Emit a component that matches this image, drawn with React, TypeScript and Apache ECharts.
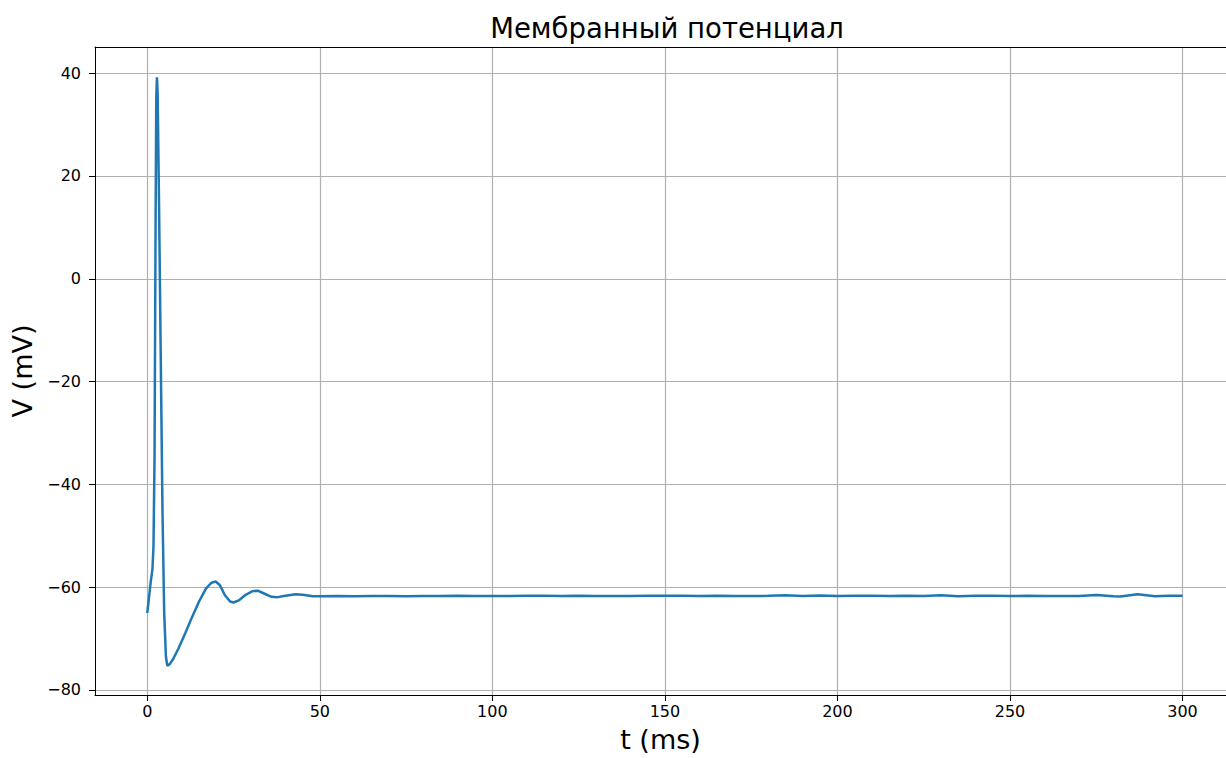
import React, { useEffect, useRef } from "react";
import * as echarts from "echarts";

// Simulated membrane potential trace (time in ms, potential in mV)
const timeMs = [
  0, 0.5, 1.0, 1.5, 1.8, 2.1, 2.4, 2.6, 2.8, 3.0, 3.4, 3.9, 4.4, 4.9, 5.4, 5.8,
  6.5, 7.5, 9, 11, 13, 15, 17, 18.5, 19.8, 21, 22.5, 24, 25, 26.5, 28.5, 30.5,
  32, 34, 36, 37.5, 40, 43, 45, 48,
  50, 55, 60, 65, 70, 75, 80, 85, 90, 95, 100, 105, 110, 115, 120, 125, 130,
  135, 140, 145, 150, 155, 160, 165, 170, 175, 180, 185, 190, 195, 200, 205,
  210, 215, 220, 225, 230, 235, 240, 245, 250, 255, 260, 265, 270, 275, 280,
  282, 287, 292, 296, 300,
];

const potentialMv = [
  -65, -62, -59, -56.5, -52, -35, 10, 35, 39.2, 36, 15, -15, -45, -65, -73.5,
  -75.3, -75, -74, -72, -69, -65.8, -62.8, -60.3, -59.2, -58.9, -59.6, -61.6,
  -62.8, -63.0, -62.6, -61.5, -60.8, -60.7, -61.3, -61.9, -62.0, -61.7, -61.4,
  -61.5, -61.8,
  -61.8, -61.75, -61.8, -61.75, -61.75, -61.8, -61.75, -61.75, -61.7, -61.75,
  -61.75, -61.75, -61.7, -61.7, -61.75, -61.7, -61.75, -61.75, -61.75, -61.7,
  -61.7, -61.7, -61.75, -61.7, -61.75, -61.75, -61.7, -61.6, -61.75, -61.65,
  -61.75, -61.7, -61.7, -61.75, -61.7, -61.75, -61.6, -61.8, -61.7, -61.7,
  -61.75, -61.7, -61.75, -61.75, -61.75, -61.55, -61.8, -61.85, -61.4, -61.8,
  -61.7, -61.7,
];

const xTicks = [0, 50, 100, 150, 200, 250, 300];
const yTicks = [-80, -60, -40, -20, 0, 20, 40];

const titleText = "Мембранный потенциал";
const xLabel = "t (ms)";
const yLabel = "V (mV)";

const FONT = "DejaVu Sans";

export default function App() {
  const ref = useRef<HTMLDivElement>(null);

  useEffect(() => {
    if (!ref.current) return;
    const chart = echarts.init(ref.current, null, { renderer: "svg" });
    const points = timeMs.map((t, i) => [t, potentialMv[i]]);
    const fmt = (v: number) => (v < 0 ? "\u2212" + Math.abs(v) : String(v));

    const tickLabelStyle = {
      fontFamily: FONT,
      fontSize: 16,
      color: "#000000",
      formatter: fmt,
    };
    const axisNameStyle = {
      fontFamily: FONT,
      fontSize: 27,
      color: "#000000",
      verticalAlign: "middle",
    };
    const spine = { show: true, onZero: false, lineStyle: { color: "#000000", width: 1 } };
    const gridLine = { show: true, lineStyle: { color: "#b0b0b0", width: 1.2 } };

    chart.setOption({
      animation: false,
      backgroundColor: "#ffffff",
      title: {
        text: titleText,
        left: 662,
        top: 9,
        textAlign: "center",
        textStyle: {
          fontFamily: FONT,
          fontSize: 27.5,
          fontWeight: "normal",
          color: "#000000",
        },
      },
      grid: {
        left: 95,
        top: 47,
        width: 1131,
        height: 650,
        show: false,
      },
      xAxis: [
        {
          type: "value",
          position: "bottom",
          min: -15.15,
          max: 312.6,
          name: xLabel,
          nameLocation: "middle",
          nameGap: 44.5,
          nameTextStyle: axisNameStyle,
          axisLine: spine,
          axisTick: {
            show: true,
            length: 6,
            inside: false,
            customValues: xTicks,
            lineStyle: { color: "#000000", width: 1 },
          },
          axisLabel: { ...tickLabelStyle, customValues: xTicks, margin: 8 },
          splitLine: gridLine,
        },
        {
          // top spine of the frame
          type: "value",
          position: "top",
          min: -15.15,
          max: 312.6,
          axisLine: spine,
          axisTick: { show: false },
          axisLabel: { show: false },
          splitLine: { show: false },
        },
      ],
      yAxis: {
        type: "value",
        min: -81.0,
        max: 45.1,
        name: yLabel,
        nameLocation: "middle",
        nameGap: 68,
        nameRotate: 90,
        nameTextStyle: axisNameStyle,
        axisLine: spine,
        axisTick: {
          show: true,
          length: 6,
          inside: false,
          customValues: yTicks,
          lineStyle: { color: "#000000", width: 1 },
        },
        axisLabel: { ...tickLabelStyle, customValues: yTicks, margin: 14 },
        splitLine: gridLine,
      },
      series: [
        {
          type: "line",
          xAxisIndex: 0,
          data: points,
          showSymbol: false,
          smooth: false,
          lineStyle: { color: "#1f77b4", width: 2.5 },
          clip: true,
        },
      ],
    });

    return () => chart.dispose();
  }, []);

  return (
    <div
      ref={ref}
      style={{ position: "fixed", left: 0, top: 0, width: 1226, height: 758 }}
    />
  );
}
